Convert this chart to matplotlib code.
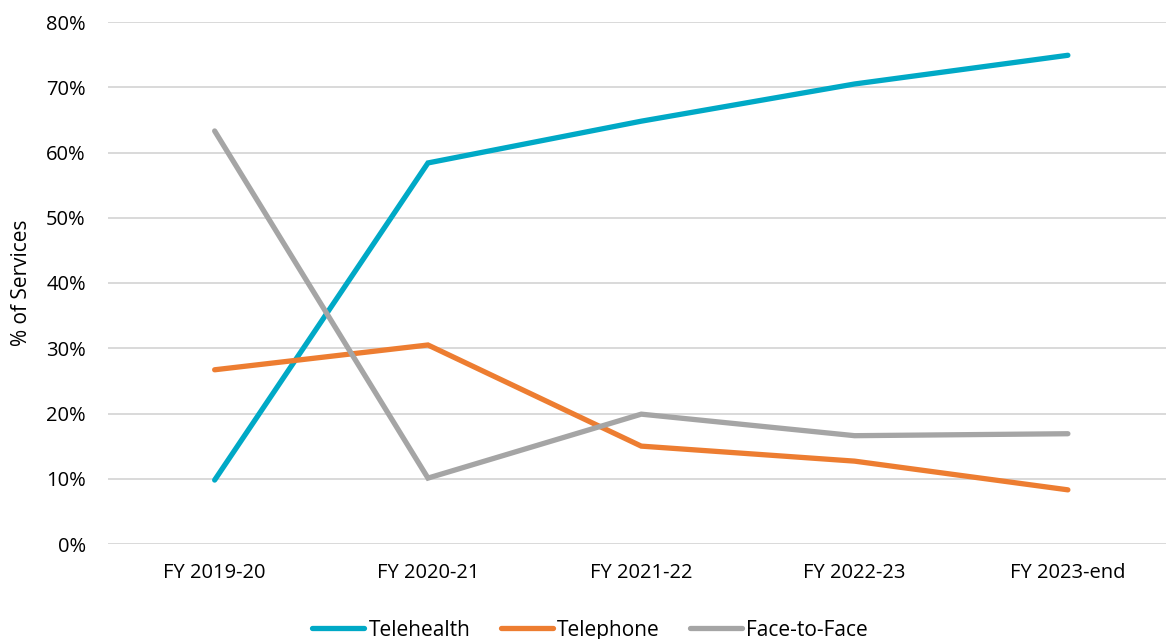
import matplotlib
matplotlib.use("Agg")
import matplotlib.pyplot as plt
from matplotlib.ticker import PercentFormatter

years = ["FY 2019-20", "FY 2020-21", "FY 2021-22", "FY 2022-23", "FY 2023-end"]
telehealth = [0.098, 0.584, 0.648, 0.705, 0.749]
telephone = [0.267, 0.305, 0.150, 0.127, 0.083]
face_to_face = [0.633, 0.101, 0.199, 0.166, 0.169]

plt.rcParams["font.family"] = ["Open Sans", "DejaVu Sans"]

fig = plt.figure(figsize=(11.66, 6.39), dpi=100)
ax = fig.add_axes([108 / 1166, 95 / 639, 1 - 108 / 1166, 522 / 639])

x = range(len(years))
series = [
    ("Telehealth", telehealth, "#00A9C6"),
    ("Telephone", telephone, "#ED7D31"),
    ("Face-to-Face", face_to_face, "#A5A5A5"),
]
for name, vals, col in series:
    ax.plot(x, vals, color=col, lw=3.8, label=name,
            solid_capstyle="round", solid_joinstyle="miter")

ax.set_xlim(-0.5, 4.46)
ax.set_ylim(0, 0.8)
ax.set_yticks([i / 10 for i in range(9)])
ax.yaxis.set_major_formatter(PercentFormatter(1.0, decimals=0))
ax.set_xticks(list(x))
ax.set_xticklabels(years)
ax.grid(axis="y", color="#D9D9D9", lw=1.4)
ax.set_axisbelow(True)
for s in ax.spines.values():
    s.set_visible(False)
ax.tick_params(length=0, labelsize=14.5, colors="black")
ax.tick_params(axis="x", pad=14)
ax.tick_params(axis="y", pad=16)
ax.set_ylabel("% of Services", fontsize=15, labelpad=10)

fig.legend(loc="lower center", bbox_to_anchor=(0.506, -0.032), ncol=3,
           frameon=False, fontsize=15, handlelength=2.5, handletextpad=0.2,
           columnspacing=1.45)

fig.savefig("out.png", dpi=100)
